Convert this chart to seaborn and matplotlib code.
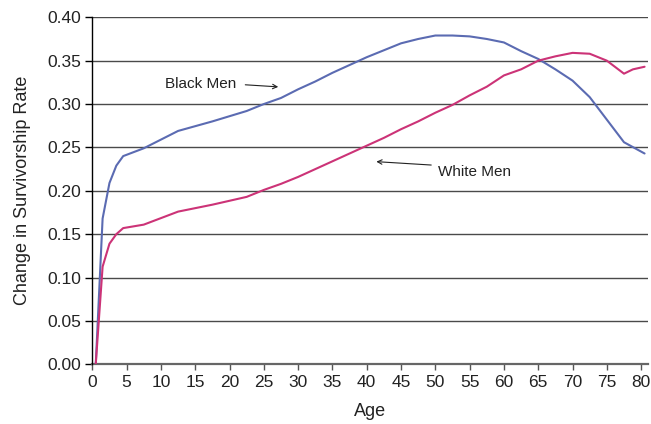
import numpy as np
import pandas as pd
import matplotlib
matplotlib.use("Agg")
import matplotlib.pyplot as plt
import seaborn as sns

# ---- data ----
black_age = [0.5, 1.5, 2.5, 3.5, 4.5, 7.5, 12.5, 17.5, 22.5, 25, 27.5, 30, 32.5, 35, 37.5,
             40, 42.5, 45, 47.5, 50, 52.5, 55, 57.5, 60, 62.5, 65, 67.5, 70, 72.5, 75,
             77.5, 80.5]
black_rate = [0.000, 0.168, 0.209, 0.229, 0.240, 0.249, 0.269, 0.280, 0.292, 0.300, 0.307,
              0.317, 0.326, 0.336, 0.345, 0.354, 0.362, 0.370, 0.375, 0.379, 0.379, 0.378,
              0.375, 0.371, 0.361, 0.352, 0.340, 0.327, 0.308, 0.282, 0.256, 0.243]

white_age = [0.5, 1.5, 2.5, 3.5, 4.5, 7.5, 12.5, 17.5, 22.5, 25, 27.5, 30, 32.5, 35, 37.5,
             40, 42.5, 45, 47.5, 50, 52.5, 55, 57.5, 60, 62.5, 65, 67.5, 70, 72.5, 75,
             77.5, 78.8, 80.5]
white_rate = [0.000, 0.1125, 0.139, 0.150, 0.157, 0.161, 0.176, 0.184, 0.193, 0.201, 0.208,
              0.216, 0.225, 0.234, 0.243, 0.252, 0.261, 0.271, 0.280, 0.290, 0.299, 0.310,
              0.320, 0.333, 0.340, 0.350, 0.355, 0.359, 0.358, 0.350, 0.335, 0.340, 0.343]

x_ticks = list(range(0, 81, 5))
y_ticks = [0.00, 0.05, 0.10, 0.15, 0.20, 0.25, 0.30, 0.35, 0.40]
series_names = ["Black Men", "White Men"]

df = pd.concat([
    pd.DataFrame({"Age": black_age, "Rate": black_rate, "Group": series_names[0]}),
    pd.DataFrame({"Age": white_age, "Rate": white_rate, "Group": series_names[1]}),
], ignore_index=True)

sns.set_style("white")
plt.rcParams["font.family"] = ["Liberation Sans", "DejaVu Sans"]

fig = plt.figure(figsize=(6.51, 4.24), dpi=100)
ax = fig.add_axes([0.1418, 0.1408, 0.9954 - 0.1418, 0.9592 - 0.1408])

palette = {"Black Men": "#5B6BB2", "White Men": "#CC3377"}
sns.lineplot(data=df, x="Age", y="Rate", hue="Group", palette=palette,
             estimator=None, sort=False, linewidth=1.5, legend=False, ax=ax)

ax.set_xlim(0, 81)
ax.set_ylim(0, 0.40)
ax.set_xticks(x_ticks)
ax.set_yticks(y_ticks)
ax.set_yticklabels([f"{v:.2f}" for v in y_ticks])

ax.yaxis.grid(True, color="#4a4a4a", linewidth=1.0)
ax.xaxis.grid(False)
ax.set_axisbelow(True)

for s in ["top", "right"]:
    ax.spines[s].set_visible(False)
ax.spines["left"].set_color("black")
ax.spines["left"].set_linewidth(1.0)
ax.spines["bottom"].set_color("#666666")
ax.spines["bottom"].set_linewidth(1.6)
ax.spines["bottom"].set_zorder(1)

ax.tick_params(axis="y", direction="out", length=5, width=1, color="black",
               labelsize=12.5, labelcolor="#222222", pad=3, left=True)
ax.tick_params(axis="x", direction="out", length=4, width=1, color="#555555",
               labelsize=12.5, labelcolor="#222222", pad=4, bottom=True)

ax.set_xlabel("Age", fontsize=13, color="#222222", labelpad=9)
ax.set_ylabel("Change in Survivorship Rate", fontsize=13, color="#222222", labelpad=12)

# annotations
ax.text(10.6, 0.3235, "Black Men", fontsize=11, color="#222222", va="center", ha="left")
ax.annotate("", xy=(27.1, 0.3198), xytext=(22.3, 0.3222),
            arrowprops=dict(arrowstyle="->", color="#222222", lw=0.8,
                            shrinkA=0, shrinkB=0, mutation_scale=8))
ax.text(50.4, 0.2220, "White Men", fontsize=11, color="#222222", va="center", ha="left")
ax.annotate("", xy=(41.4, 0.2336), xytext=(49.4, 0.2297),
            arrowprops=dict(arrowstyle="->", color="#222222", lw=0.8,
                            shrinkA=0, shrinkB=0, mutation_scale=8))

fig.savefig("out.png", dpi=100)
